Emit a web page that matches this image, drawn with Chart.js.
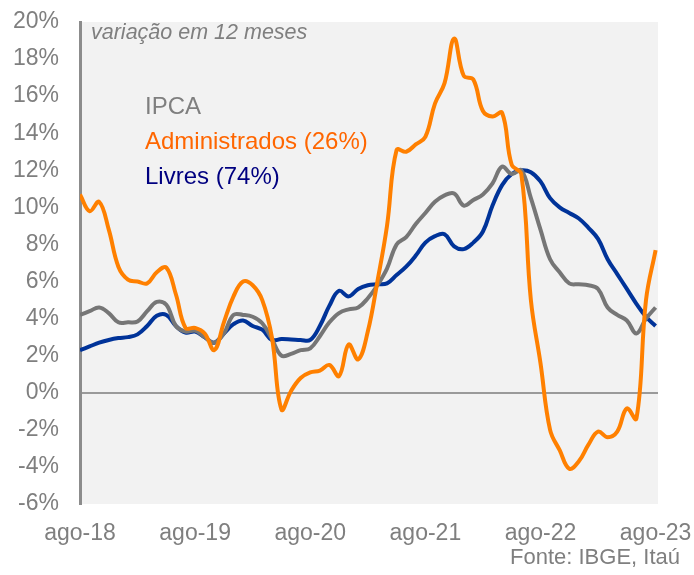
<!DOCTYPE html>
<html>
<head>
<meta charset="utf-8">
<script src="https://cdn.jsdelivr.net/npm/chart.js@4"></script>
<style>
  html, body { margin: 0; padding: 0; background: #ffffff; }
  #wrap { width: 694px; height: 575px; }
</style>
</head>
<body>
<div id="wrap"><canvas id="ipcaChart" width="694" height="575"></canvas></div>
<script>
// months: ago-18 .. ago-23 (61 points), 12-month change in %
var tickLabels = ['ago-18', 'ago-19', 'ago-20', 'ago-21', 'ago-22', 'ago-23'];

var administrados = [10.7, 9.8, 10.3, 8.8, 6.8, 6.1, 6.0, 5.9, 6.5, 6.75,
    5.3, 3.5, 3.5, 3.2, 2.3, 3.8, 5.2, 6.0, 5.8, 5.0,
    3.0, -0.9, 0.1, 0.8, 1.1, 1.2, 1.5, 0.9, 2.6, 1.8,
    3.3, 6.0, 9.0, 13.1, 13.0, 13.4, 13.8, 15.6, 16.7, 19.1,
    17.1, 16.9, 15.2, 14.9, 15.1, 12.3, 11.8, 5.0, 1.6, -2.0,
    -3.1, -4.1, -3.7, -2.8, -2.1, -2.4, -2.1, -0.85, -1.4, 5.0,
    7.7];

var ipca = [4.2, 4.4, 4.6, 4.3, 3.8, 3.8, 3.85, 4.4, 4.9, 4.75,
    3.6, 3.3, 3.35, 3.0, 2.7, 3.2, 4.2, 4.2, 4.1, 3.75,
    2.9, 2.0, 2.1, 2.3, 2.4, 3.05, 3.8, 4.3, 4.5, 4.6,
    5.1, 5.8, 6.7, 8.0, 8.4, 9.1, 9.7, 10.3, 10.65, 10.75,
    10.1, 10.4, 10.7, 11.3, 12.2, 11.8, 12.0, 10.5, 8.8, 7.2,
    6.5, 5.9, 5.85, 5.8, 5.6, 4.6, 4.2, 3.9, 3.2, 4.0,
    4.6];

var livres = [2.3, 2.5, 2.7, 2.85, 2.95, 3.0, 3.15, 3.6, 4.15, 4.2,
    3.6, 3.25, 3.3, 3.0, 2.7, 3.2, 3.7, 3.9, 3.6, 3.4,
    2.85, 2.9, 2.88, 2.85, 2.85, 3.6, 4.7, 5.5, 5.2, 5.6,
    5.8, 5.85, 5.9, 6.35, 6.8, 7.4, 8.1, 8.45, 8.55, 7.9,
    7.75, 8.1, 8.7, 10.1, 11.2, 11.8, 12.0, 11.9, 11.4, 10.5,
    10.0, 9.7, 9.4, 8.9, 8.3, 7.2, 6.4, 5.6, 4.8, 4.1,
    3.6];

var FONT = "'Liberation Sans', Arial, sans-serif";

function toPoints(values) {
    return values.map(function (v, i) { return { x: i, y: v }; });
}

// gray plot area behind everything
var plotBackground = {
    id: 'plotBackground',
    beforeDraw: function (chart) {
        var a = chart.chartArea, ctx = chart.ctx;
        ctx.save();
        ctx.fillStyle = '#f2f2f2';
        ctx.fillRect(a.left, a.top, a.right - a.left, a.bottom - a.top);
        ctx.restore();
    }
};

// subtitle, text legend and source note
var annotations = {
    id: 'annotations',
    afterDraw: function (chart) {
        var ctx = chart.ctx;
        ctx.save();
        ctx.textBaseline = 'middle';
        ctx.textAlign = 'left';
        ctx.fillStyle = '#7f7f7f';
        ctx.font = 'italic 21.5px ' + FONT;
        ctx.fillText('variação em 12 meses', 91, 33);

        ctx.font = '24px ' + FONT;
        ctx.fillStyle = '#7f7f7f';
        ctx.fillText('IPCA', 145, 107);
        ctx.fillStyle = '#ff6600';
        ctx.fillText('Administrados (26%)', 145, 142);
        ctx.fillStyle = '#000080';
        ctx.fillText('Livres (74%)', 145, 177);

        ctx.textAlign = 'right';
        ctx.font = '22px ' + FONT;
        ctx.fillStyle = '#7f7f7f';
        ctx.fillText('Fonte: IBGE, Itaú', 680, 558);
        ctx.restore();
    }
};

var ctx = document.getElementById('ipcaChart').getContext('2d');
var chart = new Chart(ctx, {
    type: 'line',
    data: {
        datasets: [
            {
                label: 'Administrados (26%)',
                data: toPoints(administrados),
                borderColor: '#ff8000',
                borderWidth: 4,
                pointRadius: 0,
                tension: 0.4
            },
            {
                label: 'IPCA',
                data: toPoints(ipca),
                borderColor: '#767676',
                borderWidth: 4,
                pointRadius: 0,
                tension: 0.4
            },
            {
                label: 'Livres (74%)',
                data: toPoints(livres),
                borderColor: '#003399',
                borderWidth: 4,
                pointRadius: 0,
                tension: 0.4
            }
        ]
    },
    options: {
        responsive: false,
        animation: false,
        layout: { padding: { top: 22, right: 36, left: 0, bottom: 0 } },
        plugins: {
            legend: { display: false },
            tooltip: { enabled: false }
        },
        scales: {
            x: {
                type: 'linear',
                min: 0,
                max: 60.25,
                afterBuildTicks: function (scale) {
                    scale.ticks = tickLabels.map(function (_, k) { return { value: k * 12 }; });
                },
                afterFit: function (scale) {
                    scale.height = 71;
                    scale.paddingLeft = 0;
                    scale.paddingRight = 0;
                },
                grid: { display: false, drawTicks: false },
                border: { display: false },
                ticks: {
                    padding: 16,
                    maxRotation: 0,
                    autoSkip: false,
                    color: '#7f7f7f',
                    font: { family: FONT, size: 23 },
                    callback: function (value) { return tickLabels[Math.round(value / 12)]; }
                }
            },
            y: {
                min: -6,
                max: 20,
                afterFit: function (scale) {
                    scale.width = 80;
                    scale.paddingTop = 0;
                    scale.paddingBottom = 0;
                },
                grid: {
                    drawTicks: false,
                    lineWidth: 2,
                    color: function (c) { return c.tick && c.tick.value === 0 ? '#9a9a9a' : 'rgba(0,0,0,0)'; }
                },
                border: { display: true, color: '#8c8c8c', width: 3 },
                ticks: {
                    stepSize: 2,
                    padding: 21,
                    color: '#7f7f7f',
                    font: { family: FONT, size: 23 },
                    callback: function (value) { return value + '%'; }
                }
            }
        }
    },
    plugins: [plotBackground, annotations]
});
</script>
</body>
</html>
